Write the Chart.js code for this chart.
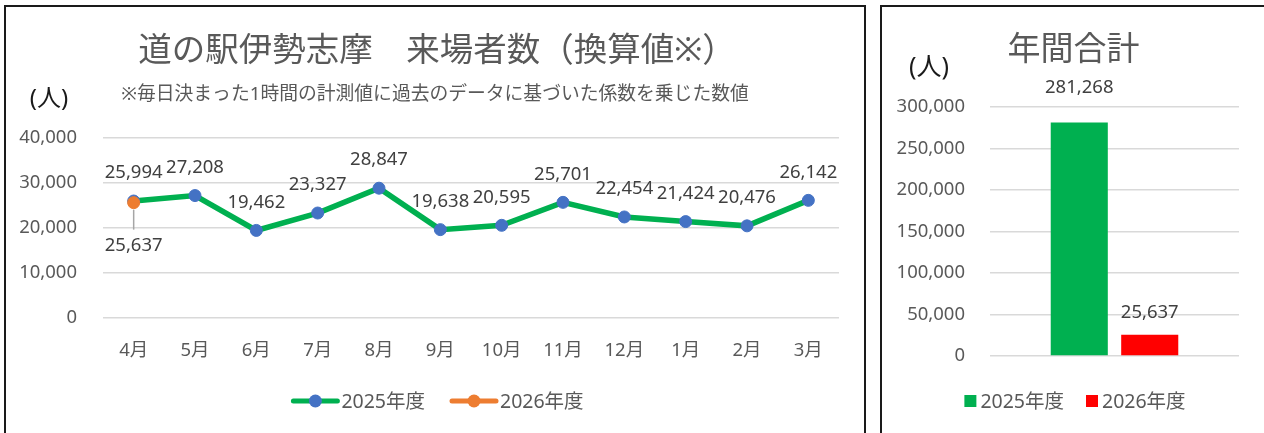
<!DOCTYPE html>
<html lang="ja">
<head>
<meta charset="utf-8">
<title>道の駅伊勢志摩 来場者数</title>
<script src="https://cdn.jsdelivr.net/npm/chart.js@4.4.1/dist/chart.umd.min.js"></script>
<style>
    html, body { margin: 0; padding: 0; background: #fff; overflow: hidden; }
    .panel { position: absolute; border: 2px solid #1a1a1a; box-sizing: border-box; background: #fff; }
    #left { left: 4px; top: 5px; width: 862px; height: 442px; }
    #right { left: 880px; top: 5px; width: 400px; height: 442px; }
    canvas { display: block; }
</style>
</head>
<body>
<div class="panel" id="left"><canvas id="monthlyChart" width="858" height="438"></canvas></div>
<div class="panel" id="right"><canvas id="totalChart" width="396" height="438"></canvas></div>

<script>
// data
const months = ['4月', '5月', '6月', '7月', '8月', '9月', '10月', '11月', '12月', '1月', '2月', '3月'];
const visitors2025 = [25994, 27208, 19462, 23327, 28847, 19638, 20595, 25701, 22454, 21424, 20476, 26142];
const visitors2026 = [25637, null, null, null, null, null, null, null, null, null, null, null];
const yearNames = ['2025年度', '2026年度'];
const yearTotals = [281268, 25637];

const FONT = '"Noto Sans", "Noto Sans CJK JP", sans-serif';
const GREY = '#595959';

const fmt = v => v.toLocaleString('en-US');

// value labels above (or below) each point / bar
const valueLabels = {
    id: 'valueLabels',
    afterDatasetsDraw(chart) {
        const ctx = chart.ctx;
        ctx.save();
        ctx.font = '18.5px ' + FONT;
        ctx.fillStyle = '#404040';
        ctx.textAlign = 'center';
        ctx.textBaseline = 'middle';
        chart.data.datasets.forEach((ds, i) => {
            const meta = chart.getDatasetMeta(i);
            meta.data.forEach((el, j) => {
                const v = ds.data[j];
                if (v == null) return;
                const y = el.y + ds.labelOffset;
                if (ds.leaderLine) {
                    ctx.strokeStyle = '#a6a6a6';
                    ctx.lineWidth = 1.5;
                    ctx.beginPath();
                    ctx.moveTo(el.x, el.y + 7);
                    ctx.lineTo(el.x, y - 16);
                    ctx.stroke();
                }
                ctx.fillText(fmt(v), el.x, y);
            });
        });
        ctx.restore();
    }
};

// titles and unit text
const headings = {
    id: 'headings',
    afterDraw(chart, args, opts) {
        const ctx = chart.ctx;
        ctx.save();
        ctx.textAlign = 'center';
        ctx.textBaseline = 'middle';
        opts.items.forEach(t => {
            ctx.font = t.size + 'px ' + FONT;
            ctx.fillStyle = t.color;
            ctx.fillText(t.text, t.x, t.y);
        });
        ctx.restore();
    }
};

// bottom legend, line+marker or square
const bottomLegend = {
    id: 'bottomLegend',
    afterDraw(chart, args, opts) {
        const ctx = chart.ctx;
        ctx.save();
        ctx.font = '19.5px ' + FONT;
        ctx.textBaseline = 'middle';
        const items = chart.data.datasets.map(ds => ({ ds, w: ctx.measureText(ds.label).width }));
        let total = 0;
        items.forEach((it, i) => { total += opts.symbol + opts.textGap + it.w + (i ? opts.itemGap : 0); });
        let x = opts.cx - total / 2;
        const y = opts.y;
        items.forEach(it => {
            const ds = it.ds;
            if (opts.type === 'line') {
                ctx.strokeStyle = ds.borderColor;
                ctx.lineWidth = 5;
                ctx.lineCap = 'round';
                ctx.beginPath();
                ctx.moveTo(x + 2, y);
                ctx.lineTo(x + opts.symbol - 2, y);
                ctx.stroke();
                ctx.fillStyle = ds.pointBackgroundColor;
                ctx.beginPath();
                ctx.arc(x + opts.symbol / 2, y, 6.5, 0, Math.PI * 2);
                ctx.fill();
            } else {
                ctx.fillStyle = ds.backgroundColor;
                ctx.fillRect(x, y - 6, opts.symbol, 12);
            }
            x += opts.symbol + opts.textGap;
            ctx.fillStyle = GREY;
            ctx.textAlign = 'left';
            ctx.fillText(ds.label, x, y + 1);
            x += it.w + opts.itemGap;
        });
        ctx.restore();
    }
};

Chart.defaults.font.family = FONT;
Chart.defaults.color = GREY;

new Chart(document.getElementById('monthlyChart'), {
    type: 'line',
    data: {
        labels: months,
        datasets: [{
            label: yearNames[0],
            data: visitors2025,
            borderColor: '#00B050',
            borderWidth: 5.5,
            pointBackgroundColor: '#4472C4',
            pointBorderColor: '#4472C4',
            pointRadius: 6,
            pointBorderWidth: 1,
            tension: 0,
            order: 1,
            labelOffset: -28
        }, {
            label: yearNames[1],
            data: visitors2026,
            borderColor: '#ED7D31',
            borderWidth: 5.5,
            pointBackgroundColor: '#ED7D31',
            pointBorderColor: '#ED7D31',
            pointRadius: 6,
            pointBorderWidth: 1,
            order: 0,
            labelOffset: 43,
            leaderLine: true
        }]
    },
    options: {
        responsive: false,
        animation: false,
        layout: { padding: { top: 131, right: 25, bottom: 67, left: 0 } },
        scales: {
            x: {
                offset: true,
                grid: { display: false },
                border: { display: false },
                ticks: { font: { size: 18.5 }, padding: 14, maxRotation: 0 },
                afterFit: s => { s.height = 60; }
            },
            y: {
                min: 0, max: 40000,
                grid: { color: '#D9D9D9', lineWidth: 1.5, drawTicks: false },
                border: { display: false },
                ticks: { stepSize: 10000, font: { size: 18.5 }, padding: 26, callback: v => fmt(v) },
                afterFit: s => { s.width = 97; }
            }
        },
        plugins: {
            legend: { display: false },
            tooltip: { enabled: false },
            headings: {
                items: [
                    { text: '道の駅伊勢志摩　来場者数（換算値※）', x: 431, y: 44, size: 33.5, color: GREY },
                    { text: '※毎日決まった1時間の計測値に過去のデータに基づいた係数を乗じた数値', x: 429, y: 88, size: 18.8, color: GREY },
                    { text: '(人)', x: 43, y: 92, size: 24, color: '#1a1a1a' }
                ]
            },
            bottomLegend: { type: 'line', cx: 431.5, y: 394, symbol: 48, textGap: 2, itemGap: 25 }
        }
    },
    plugins: [valueLabels, headings, bottomLegend]
});

new Chart(document.getElementById('totalChart'), {
    type: 'bar',
    data: {
        labels: [''],
        datasets: [{
            label: yearNames[0],
            data: [yearTotals[0]],
            backgroundColor: '#00B050',
            labelOffset: -35
        }, {
            label: yearNames[1],
            data: [yearTotals[1]],
            backgroundColor: '#FF0000',
            labelOffset: -22
        }]
    },
    options: {
        responsive: false,
        animation: false,
        categoryPercentage: 0.566,
        barPercentage: 0.81,
        layout: { padding: { top: 100, right: 39, bottom: 89, left: 0 } },
        scales: {
            x: { display: false },
            y: {
                min: 0, max: 300000,
                grid: { color: '#D9D9D9', lineWidth: 1.5, drawTicks: false },
                border: { display: false },
                ticks: { stepSize: 50000, font: { size: 18.5 }, padding: 25, callback: v => fmt(v) },
                afterFit: s => { s.width = 108; }
            }
        },
        plugins: {
            legend: { display: false },
            tooltip: { enabled: false },
            headings: {
                items: [
                    { text: '年間合計', x: 191.5, y: 44, size: 33, color: GREY },
                    { text: '(人)', x: 47, y: 61, size: 25, color: '#1a1a1a' }
                ]
            },
            bottomLegend: { type: 'square', cx: 193, y: 394, symbol: 12, textGap: 4, itemGap: 22 }
        }
    },
    plugins: [valueLabels, headings, bottomLegend]
});
</script>
</body>
</html>
